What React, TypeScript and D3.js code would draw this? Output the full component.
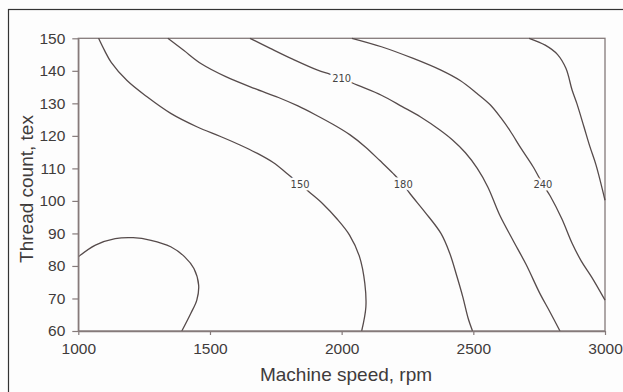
import React, { useRef, useEffect } from 'react';
import * as d3 from 'd3';

// axis ticks
const rpmTicks = [1000, 1500, 2000, 2500, 3000];
const texTicks = [60, 70, 80, 90, 100, 110, 120, 130, 140, 150];

// contour lines, [rpm, tex]
const contour120 = [[1000, 82.8], [1065, 86.4], [1140, 88.4], [1208, 88.7], [1276, 87.9], [1351, 85.9], [1404, 82.8], [1439, 79.2], [1457, 74.1], [1450, 69.5], [1427, 65.4], [1393, 60]];
const contour150 = [[1077, 150], [1100, 146.2], [1125, 142.6], [1185, 137], [1261, 132], [1351, 126.9], [1450, 122.8], [1540, 119.8], [1614, 117.2], [1680, 114.6], [1740, 111.8], [1790, 108.6], [1842, 105.1], [1880, 102.5], [1930, 99], [1981, 94.6], [2030, 89.5], [2068, 82.8], [2088, 74.6], [2092, 67.4], [2076, 60]];
const contour180 = [[1340, 150], [1400, 146.3], [1470, 142], [1560, 138.2], [1668, 134.6], [1760, 131.8], [1834, 129.2], [1900, 126.5], [1970, 123.4], [2032, 120.3], [2090, 116.6], [2145, 112.4], [2196, 108.4], [2234, 105.1], [2260, 102.2], [2317, 96.5], [2377, 90], [2410, 84], [2437, 77], [2460, 70.5], [2480, 64], [2497, 60]];
const contour210 = [[1652, 150], [1729, 146.9], [1816, 143.5], [1909, 140.2], [1955, 139], [2000, 137.7], [2060, 135.6], [2151, 132.5], [2230, 129], [2300, 125.8], [2373, 121.8], [2420, 118.8], [2470, 114.8], [2515, 110], [2555, 104.3], [2601, 95.5], [2650, 88], [2700, 80.5], [2753, 71.5], [2790, 66], [2829, 60]];
const contour240 = [[2039, 150], [2151, 147.4], [2272, 143.8], [2377, 140.2], [2450, 137], [2513, 133.1], [2565, 129.5], [2605, 125.5], [2640, 121.5], [2680, 116.3], [2727, 110.5], [2764, 105.1], [2792, 101.5], [2836, 94.5], [2875, 87], [2910, 81.5], [2950, 76.5], [3000, 69.5]];
const contour270 = [[2712, 150], [2773, 147.9], [2820, 145], [2852, 140.7], [2875, 134.1], [2893, 130], [2920, 122.8], [2943, 116.6], [2966, 111], [3000, 100.2]];

const contours = [contour120, contour150, contour180, contour210, contour240, contour270];

// inline labels
const labelText = ['150', '180', '210', '240'];
const labelRpm = [1842, 2234, 2000, 2764];
const labelTex = [105.1, 105.1, 137.7, 105.1];

const ContourChart = () => {
    const width = 623;
    const height = 392;
    const margin = { left: 78.3, right: 18, top: 38.3, bottom: 61 };
    const container = useRef<SVGSVGElement | null>(null);

    useEffect(() => {
        if (!container.current) return;
        const svg = d3.select(container.current);
        svg.selectAll('*').remove();

        const x = d3.scaleLinear().domain([1000, 3000]).range([margin.left, width - margin.right]);
        const y = d3.scaleLinear().domain([60, 150]).range([height - margin.bottom, margin.top]);

        svg.append('rect').attr('width', width).attr('height', height).attr('fill', '#fdfdfd');

        // outer frame (left + top only visible)
        svg.append('rect')
            .attr('x', 8.5).attr('y', 9.5)
            .attr('width', width + 20).attr('height', height + 20)
            .attr('fill', 'none').attr('stroke', '#333').attr('stroke-width', 1.2);

        // plot frame
        svg.append('rect')
            .attr('x', x(1000)).attr('y', y(150))
            .attr('width', x(3000) - x(1000)).attr('height', y(60) - y(150))
            .attr('fill', 'none').attr('stroke', '#857a7a').attr('stroke-width', 1.3);

        const line = d3.line<number[]>()
            .x(d => x(d[0]))
            .y(d => y(d[1]))
            .curve(d3.curveCatmullRom.alpha(0.5));

        svg.append('g').selectAll('path')
            .data(contours)
            .enter()
            .append('path')
            .attr('d', d => line(d))
            .attr('fill', 'none')
            .attr('stroke', '#564b4b')
            .attr('stroke-width', 1.3);

        svg.append('g').selectAll('text')
            .data(labelText)
            .enter()
            .append('text')
            .attr('x', (d, i) => x(labelRpm[i]))
            .attr('y', (d, i) => y(labelTex[i]))
            .attr('dy', '0.35em')
            .attr('text-anchor', 'middle')
            .style('font-family', '"DejaVu Sans Condensed", "Liberation Sans Narrow", sans-serif')
            .style('font-size', '11px')
            .attr('fill', '#444')
            .attr('stroke', '#fdfdfd')
            .attr('stroke-width', 5)
            .style('paint-order', 'stroke')
            .text(d => d);

        const yAxis = svg.append('g')
            .attr('transform', `translate(${x(1000)}, 0)`)
            .call(d3.axisLeft(y).tickValues(texTicks).tickSize(6).tickSizeOuter(0).tickPadding(7));

        const xAxis = svg.append('g')
            .attr('transform', `translate(0, ${y(60)})`)
            .call(d3.axisBottom(x).tickValues(rpmTicks).tickSize(4).tickSizeOuter(0).tickPadding(8).tickFormat(d3.format('d')));

        [xAxis, yAxis].forEach(a => {
            a.select('.domain').attr('stroke', '#857a7a').attr('stroke-width', 1.3);
            a.selectAll('line').attr('stroke', '#857a7a').attr('stroke-width', 1.2);
            a.selectAll('text')
                .attr('fill', '#3f3b3b')
                .style('font-family', '"Liberation Sans", Arial, sans-serif')
                .style('font-size', '15.5px');
        });

        svg.append('text')
            .attr('x', 346).attr('y', 381)
            .attr('text-anchor', 'middle')
            .attr('fill', '#3f3b3b')
            .style('font-family', '"Liberation Sans", Arial, sans-serif')
            .style('font-size', '19px')
            .text('Machine speed, rpm');

        svg.append('text')
            .attr('transform', `translate(33, 189) rotate(-90)`)
            .attr('text-anchor', 'middle')
            .attr('fill', '#3f3b3b')
            .style('font-family', '"Liberation Sans", Arial, sans-serif')
            .style('font-size', '19px')
            .text('Thread count, tex');
    }, [container.current]);

    return (
        <svg ref={container} width={width} height={height}
            style={{ position: 'absolute', left: 0, top: 0, display: 'block' }} />
    );
};

export default function App() {
    return <ContourChart />;
}
